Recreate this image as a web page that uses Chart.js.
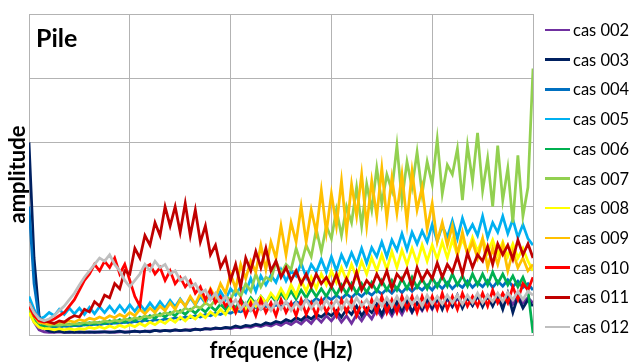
<!DOCTYPE html>
<html>
<head>
<meta charset="utf-8">
<script src="https://cdn.jsdelivr.net/npm/chart.js@4.4.1/dist/chart.umd.min.js"></script>
<style>
  body { margin: 0; background: #fff; }
  #wrap { position: relative; width: 631px; height: 363px; }
  #legend .item {
    position: absolute; left: 545px; height: 20px; line-height: 20px;
    font: 16.5px Lato, sans-serif; color: #000; display: flex; align-items: center; white-space: nowrap;
  }
  #legend .trait { display: inline-block; width: 25px; height: 2.5px; margin-right: 3px; }
</style>
</head>
<body>
<div id="wrap">
  <canvas id="graf" width="631" height="363"></canvas>
  <div id="legend"></div>
</div>
<script>
// echantillons de frequence (index)
const freq = [0,1,2,3,4,5,6,7,8,9,10,11,12,13,14,15,16,17,18,19,20,21,22,23,24,25,26,27,28,29,
  30,31,32,33,34,35,36,37,38,39,40,41,42,43,44,45,46,47,48,49,50,51,52,53,54,55,56,57,58,59,
  60,61,62,63,64,65,66,67,68,69,70,71,72,73,74,75,76,77,78,79,80,81,82,83,84,85,86,87,88,89,
  90,91,92,93,94,95,96,97,98,99,100];

const noms = ['cas 002','cas 003','cas 004','cas 005','cas 006','cas 007','cas 008','cas 009','cas 010','cas 011','cas 012'];
const couleurs = ['#7030A0','#002060','#0070C0','#00B0F0','#00B050','#92D050','#FFFF00','#FFC000','#FF0000','#C00000','#BFBFBF'];

const cas002 = [0.4,0.2,0.08,0.05,0.04,0.04,0.05,0.04,0.04,0.05,
  0.04,0.05,0.04,0.05,0.04,0.05,0.05,0.04,0.05,0.05,
  0.05,0.06,0.05,0.06,0.06,0.07,0.06,0.07,0.07,0.08,
  0.07,0.08,0.08,0.09,0.08,0.1,0.09,0.1,0.1,0.11,
  0.1,0.12,0.11,0.13,0.12,0.15,0.13,0.16,0.14,0.18,
  0.15,0.2,0.16,0.22,0.17,0.25,0.18,0.28,0.2,0.3,
  0.22,0.32,0.2,0.3,0.18,0.32,0.22,0.35,0.25,0.4,
  0.28,0.42,0.3,0.45,0.32,0.48,0.35,0.5,0.38,0.52,
  0.4,0.55,0.42,0.56,0.44,0.58,0.45,0.6,0.46,0.6,
  0.48,0.62,0.48,0.6,0.5,0.62,0.48,0.6,0.5,0.58,
  0.5];
const cas003 = [3.0,1.2,0.3,0.1,0.06,0.05,0.06,0.04,0.05,0.04,
  0.05,0.04,0.05,0.04,0.05,0.05,0.04,0.05,0.06,0.04,
  0.05,0.06,0.05,0.06,0.05,0.07,0.06,0.07,0.06,0.08,
  0.07,0.08,0.07,0.09,0.08,0.1,0.09,0.11,0.1,0.12,
  0.11,0.14,0.12,0.15,0.14,0.17,0.15,0.19,0.17,0.21,
  0.19,0.24,0.21,0.27,0.23,0.3,0.25,0.32,0.28,0.35,
  0.3,0.38,0.28,0.4,0.32,0.45,0.3,0.42,0.35,0.48,
  0.32,0.5,0.35,0.52,0.38,0.55,0.36,0.5,0.4,0.56,
  0.42,0.58,0.4,0.6,0.45,0.62,0.42,0.58,0.46,0.62,
  0.44,0.6,0.45,0.62,0.4,0.65,0.35,0.6,0.42,0.55,
  0.45];
const cas004 = [2.0,0.8,0.25,0.15,0.12,0.13,0.12,0.14,0.13,0.15,
  0.14,0.16,0.15,0.17,0.16,0.18,0.17,0.19,0.18,0.2,
  0.19,0.21,0.2,0.23,0.21,0.24,0.22,0.25,0.24,0.27,
  0.25,0.28,0.27,0.3,0.28,0.32,0.3,0.34,0.32,0.36,
  0.34,0.38,0.36,0.4,0.38,0.43,0.4,0.45,0.42,0.47,
  0.44,0.5,0.46,0.52,0.48,0.55,0.5,0.57,0.52,0.6,
  0.55,0.62,0.56,0.64,0.58,0.66,0.6,0.68,0.62,0.7,
  0.64,0.72,0.65,0.74,0.66,0.75,0.68,0.76,0.7,0.78,
  0.7,0.8,0.72,0.82,0.72,0.8,0.74,0.84,0.74,0.82,
  0.75,0.85,0.74,0.84,0.76,0.86,0.75,0.84,0.74,0.8,
  0.7];
const cas005 = [0.6,0.4,0.25,0.28,0.35,0.3,0.4,0.32,0.42,0.33,
  0.42,0.32,0.43,0.33,0.44,0.35,0.45,0.35,0.46,0.36,
  0.47,0.37,0.48,0.38,0.5,0.4,0.52,0.42,0.54,0.44,
  0.56,0.45,0.58,0.47,0.6,0.5,0.65,0.52,0.68,0.55,
  0.72,0.62,0.75,0.66,0.88,0.68,0.92,0.78,0.93,0.82,
  1.02,0.84,1.0,0.92,1.12,0.9,1.1,0.98,1.18,0.98,
  1.22,1.0,1.25,1.08,1.28,1.1,1.35,1.12,1.36,1.22,
  1.45,1.22,1.48,1.32,1.58,1.33,1.6,1.42,1.62,1.45,
  1.72,1.46,1.7,1.52,1.78,1.5,1.82,1.58,1.72,1.55,
  1.85,1.52,1.75,1.6,1.85,1.58,1.8,1.52,1.72,1.5,
  1.4];
const cas006 = [0.4,0.25,0.15,0.14,0.15,0.14,0.16,0.15,0.17,0.15,
  0.18,0.16,0.19,0.17,0.2,0.18,0.22,0.19,0.24,0.2,
  0.26,0.22,0.28,0.24,0.3,0.26,0.33,0.28,0.35,0.3,
  0.38,0.32,0.4,0.34,0.42,0.36,0.45,0.38,0.48,0.4,
  0.5,0.42,0.55,0.45,0.58,0.48,0.6,0.5,0.62,0.52,
  0.65,0.55,0.68,0.56,0.7,0.58,0.72,0.6,0.72,0.6,
  0.75,0.62,0.78,0.64,0.8,0.65,0.8,0.66,0.82,0.68,
  0.85,0.7,0.85,0.7,0.88,0.72,0.9,0.74,0.88,0.72,
  0.9,0.75,0.92,0.76,0.95,0.78,0.92,0.76,0.95,0.78,
  0.95,0.78,0.98,0.8,0.95,0.78,0.92,0.75,0.9,0.7,
  0.03];
const cas007 = [0.4,0.3,0.2,0.18,0.15,0.16,0.15,0.17,0.16,0.18,
  0.17,0.2,0.18,0.2,0.19,0.22,0.2,0.23,0.21,0.25,
  0.23,0.27,0.25,0.3,0.27,0.32,0.3,0.35,0.32,0.38,
  0.35,0.42,0.38,0.45,0.42,0.5,0.45,0.55,0.5,0.6,
  0.55,0.72,0.6,0.8,0.68,0.95,0.75,0.9,0.85,1.15,
  0.95,1.1,1.02,1.35,1.1,1.4,1.22,1.65,1.3,1.7,
  1.5,1.95,1.55,2.0,1.75,2.3,1.7,2.35,1.95,2.6,
  2.05,2.5,2.25,2.95,2.1,2.7,2.3,2.85,2.2,2.7,
  2.35,3.05,2.2,2.65,2.5,2.9,2.1,2.95,2.4,3.15,
  2.25,2.75,2.0,2.95,2.1,2.6,1.75,2.8,1.85,2.3,
  4.15];
const cas008 = [0.35,0.2,0.12,0.1,0.1,0.08,0.1,0.08,0.1,0.08,
  0.1,0.09,0.12,0.1,0.13,0.1,0.14,0.11,0.15,0.12,
  0.16,0.13,0.18,0.14,0.2,0.16,0.22,0.18,0.25,0.2,
  0.28,0.22,0.3,0.25,0.33,0.27,0.36,0.3,0.4,0.32,
  0.45,0.35,0.5,0.4,0.55,0.45,0.6,0.5,0.65,0.55,
  0.72,0.58,0.78,0.62,0.85,0.68,0.9,0.72,0.95,0.78,
  1.0,0.82,1.05,0.85,1.1,0.9,1.15,0.95,1.2,1.0,
  1.25,1.02,1.3,1.05,1.32,1.1,1.35,1.12,1.4,1.15,
  1.4,1.18,1.45,1.2,1.48,1.25,1.5,1.28,1.52,1.3,
  1.5,1.28,1.48,1.25,1.45,1.22,1.42,1.2,1.35,1.15,
  1.0];
const cas009 = [0.45,0.3,0.2,0.18,0.17,0.18,0.2,0.2,0.22,0.2,
  0.24,0.22,0.26,0.24,0.28,0.25,0.3,0.27,0.32,0.28,
  0.35,0.3,0.4,0.33,0.42,0.35,0.45,0.38,0.5,0.4,
  0.55,0.45,0.6,0.48,0.65,0.52,0.72,0.58,0.8,0.65,
  0.95,0.72,1.1,0.88,1.15,0.98,1.4,1.02,1.45,1.2,
  1.7,1.25,1.75,1.45,2.0,1.45,1.95,1.6,2.25,1.6,
  2.2,1.7,2.4,1.6,2.35,1.85,2.5,1.7,2.4,1.85,
  2.6,1.8,2.45,1.9,2.5,1.75,2.55,1.95,2.3,1.65,
  2.05,1.45,1.75,1.4,1.7,1.25,1.6,1.25,1.45,1.2,
  1.5,1.05,1.35,1.1,1.4,1.0,1.3,1.05,1.2,1.0,
  1.1];
const cas010 = [0.45,0.3,0.22,0.2,0.22,0.25,0.3,0.35,0.45,0.55,
  0.7,0.85,0.95,1.1,1.0,1.15,1.05,1.2,0.95,1.1,
  0.85,0.6,0.45,1.05,1.1,0.95,1.05,0.85,1.0,0.8,
  0.9,0.75,0.85,0.65,0.75,0.55,0.7,0.5,0.6,0.45,
  0.55,0.35,0.55,0.3,0.5,0.3,0.55,0.35,0.5,0.3,
  0.55,0.35,0.5,0.3,0.55,0.32,0.5,0.3,0.55,0.35,
  0.5,0.3,0.55,0.35,0.55,0.3,0.5,0.35,0.55,0.35,
  0.6,0.35,0.55,0.35,0.6,0.4,0.6,0.35,0.6,0.4,
  0.6,0.4,0.65,0.4,0.6,0.4,0.65,0.45,0.6,0.45,
  0.65,0.45,0.7,0.5,0.65,0.5,0.75,0.55,0.8,0.7,
  0.9];
const cas011 = [0.5,0.35,0.25,0.22,0.2,0.18,0.22,0.2,0.26,0.3,
  0.28,0.4,0.36,0.52,0.45,0.62,0.58,0.8,0.72,1.0,
  0.95,1.35,1.2,1.55,1.4,1.75,1.55,2.0,1.7,2.0,
  1.6,2.05,1.55,1.95,1.45,1.7,1.25,1.4,1.05,1.2,
  0.85,1.1,0.75,1.2,1.0,1.3,1.05,1.35,1.0,1.15,
  0.9,1.05,0.85,1.0,0.8,0.95,0.75,0.95,0.8,0.9,
  0.75,0.95,0.7,0.88,0.72,0.98,0.7,0.85,0.75,0.95,
  0.8,1.0,0.72,0.95,0.85,1.02,0.75,1.05,0.85,1.0,
  0.88,1.12,0.9,1.1,0.98,1.22,0.95,1.28,1.05,1.25,
  1.15,1.38,1.1,1.42,1.25,1.4,1.18,1.48,1.25,1.42,
  1.2];
const cas012 = [0.5,0.35,0.25,0.22,0.25,0.3,0.38,0.45,0.55,0.65,
  0.78,0.9,1.0,1.1,1.2,1.15,1.25,1.1,1.0,0.85,
  0.75,0.85,0.95,1.1,1.0,1.15,1.05,1.1,0.95,1.0,
  0.85,0.9,0.75,0.8,0.65,0.7,0.55,0.65,0.5,0.6,
  0.45,0.55,0.4,0.5,0.38,0.52,0.4,0.5,0.38,0.52,
  0.4,0.52,0.38,0.5,0.4,0.55,0.42,0.52,0.4,0.55,
  0.42,0.55,0.4,0.55,0.42,0.58,0.45,0.55,0.42,0.58,
  0.45,0.58,0.45,0.6,0.45,0.6,0.48,0.6,0.45,0.62,
  0.48,0.6,0.48,0.62,0.5,0.62,0.48,0.62,0.5,0.65,
  0.5,0.62,0.52,0.65,0.52,0.66,0.55,0.68,0.55,0.68,
  0.62];

const series = [cas002, cas003, cas004, cas005, cas006, cas007, cas008, cas009, cas010, cas011, cas012];

const grille = '#b3b3b3';

// titre "Pile" dans la zone du graphe
const titrePile = {
  id: 'titrePile',
  afterDraw(chart) {
    const ctx = chart.ctx;
    ctx.save();
    ctx.font = 'bold 25px Lato, sans-serif';
    ctx.fillStyle = '#000';
    ctx.textBaseline = 'alphabetic';
    ctx.fillText('Pile', chart.chartArea.left + 7, 47);
    ctx.restore();
  }
};

const datasets = series.map((vals, i) => ({
  label: noms[i],
  data: freq.map((f, k) => ({ x: f, y: vals[k] })),
  borderColor: couleurs[i],
  backgroundColor: couleurs[i],
  borderWidth: 2.75,
  pointRadius: 0,
  tension: 0,
  order: series.length - i
}));

new Chart(document.getElementById('graf'), {
  type: 'line',
  data: { datasets },
  options: {
    responsive: false,
    animation: false,
    layout: { padding: { top: 14, right: 98, left: 0, bottom: 0 } },
    plugins: {
      legend: { display: false },
      tooltip: { enabled: false }
    },
    scales: {
      x: {
        type: 'linear',
        min: 0,
        max: 100,
        ticks: { display: false, stepSize: 20 },
        grid: { color: grille, drawTicks: false },
        border: { color: grille },
        title: {
          display: true,
          text: 'fréquence (Hz)',
          color: '#000',
          font: { family: 'Lato, sans-serif', size: 22, weight: 'bold', lineHeight: 1 },
          padding: { top: 5, bottom: 1 }
        }
      },
      y: {
        min: 0,
        max: 5,
        ticks: { display: false, stepSize: 1 },
        grid: { color: grille, drawTicks: false },
        border: { color: grille },
        title: {
          display: true,
          text: 'amplitude',
          color: '#000',
          font: { family: 'Lato, sans-serif', size: 22, weight: 'bold', lineHeight: 1 },
          padding: { top: 7, bottom: 0 }
        }
      }
    }
  },
  plugins: [titrePile]
});

// legende a droite
const legende = document.getElementById('legend');
noms.forEach((nom, i) => {
  const item = document.createElement('div');
  item.className = 'item';
  item.style.top = (30 + i * 29.7 - 10) + 'px';
  item.innerHTML = '<span class="trait" style="background:' + couleurs[i] + '"></span>' + nom;
  legende.appendChild(item);
});
</script>
</body>
</html>
